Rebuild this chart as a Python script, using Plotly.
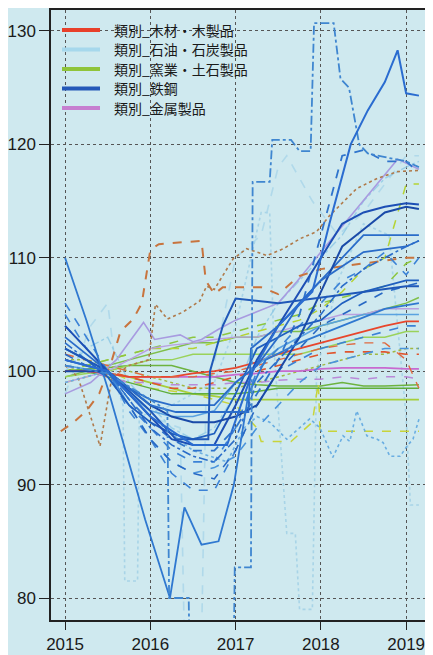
import plotly.graph_objects as go

# ---------------- data ----------------
# quarterly grid (decimal years)
years_q = [2015.0, 2015.25, 2015.5, 2015.75, 2016.0, 2016.25, 2016.5, 2016.75,
           2017.0, 2017.25, 2017.5, 2017.75, 2018.0, 2018.25, 2018.5, 2018.75,
           2019.0, 2019.15]

legend_names = ["類別_木材・木製品", "類別_石油・石炭製品", "類別_窯業・土石製品",
                "類別_鉄鋼", "類別_金属製品"]

# 鉄鋼 (quarterly)
steel_1 = [104, 102, 100, 98, 96, 94, 93.5, 93.5, 97, 101, 104, 107, 110, 113, 114, 114.5, 114.8, 114.7]
steel_2 = [103, 101.5, 100, 98.5, 97.5, 97, 97, 97, 99, 100.5, 103, 106, 108, 110, 112, 112, 112, 112]
steel_3 = [105, 102, 100, 97, 95, 93, 92, 92, 95, 100, 102, 104, 106, 108, 109, 110.5, 108.5, 110]
steel_4 = [102, 101, 99.5, 97, 95.5, 94.5, 94, 94.5, 98, 102, 103, 104, 104.5, 106, 107, 107.5, 108, 108]
steel_5 = [101.5, 100.5, 99.5, 97, 94, 92, 91, 90.5, 93, 97, 100, 102, 104, 105, 106, 107, 107.5, 107.8]
steel_6 = [100.5, 100.2, 99.8, 98, 96.5, 96, 96, 96.5, 99, 100.5, 102, 103, 104, 104.5, 105, 105, 105, 105]
steel_7 = [106, 103, 100, 96.5, 94, 91, 89.5, 89.5, 93, 97, 100, 101, 102, 102.5, 103, 103.5, 104, 104]
steel_8 = [102.5, 101, 100, 97.5, 95, 93.5, 92.5, 92, 94, 99, 101, 103, 105, 107.5, 109, 110, 111, 111.5]
steel_9 = [100, 100, 100, 98.5, 97, 96, 95.5, 95.5, 96, 97, 100, 103, 107, 111, 112.5, 114, 114.5, 114.3]
steel_10 = [101, 100.5, 100, 97.5, 95.5, 94, 93, 93, 95, 98, 101, 105, 112, 119, 119.5, 118.5, 118.5, 117.5]
steel_11 = [104, 102, 100, 97, 94, 92, 91, 91.5, 92.5, 95, 97, 99, 100.5, 101, 101.5, 102, 102, 102]

# 鉄鋼 (own dates)
steel_peak_x = [2015.0, 2015.5, 2016.0, 2016.5, 2016.9, 2017.2, 2017.5, 2017.9, 2018.1,
                2018.35, 2018.55, 2018.75, 2018.9, 2019.0, 2019.15]
steel_peak_y = [101, 100, 96, 93.5, 93.5, 100, 104, 107, 113, 120, 123, 125.5, 128.3, 124.5, 124.3]

steel_step_x = [2015.0, 2015.5, 2016.0, 2016.2, 2016.22, 2016.45, 2016.47, 2016.97, 2016.99,
                2017.18, 2017.2, 2017.4, 2017.43, 2017.65, 2017.75, 2017.88, 2017.92, 2018.15,
                2018.23, 2018.33, 2018.45, 2018.55, 2018.8, 2019.0, 2019.15]
steel_step_y = [100.5, 99.8, 97.5, 96.5, 80, 80, 70, 70, 82.7, 82.7, 116.7, 116.7, 120.4,
                120.4, 119.4, 119.4, 130.7, 130.7, 125.8, 125, 120, 119.2, 118.8, 118.5, 118]

steel_w_x = [2015.0, 2015.25, 2015.5, 2015.75, 2015.94, 2016.23, 2016.4, 2016.6, 2016.8,
             2016.98, 2017.15, 2017.35, 2017.75, 2018.25, 2018.75, 2019.15]
steel_w_y = [110, 104.5, 98.5, 92, 86.9, 80, 88, 84.7, 85, 90, 98, 101, 102.5, 104, 105.5, 106]

steel_jump1_x = [2015.0, 2015.5, 2016.0, 2016.3, 2016.68, 2016.7, 2016.85, 2017.0, 2017.5,
                 2018.0, 2018.5, 2019.0, 2019.15]
steel_jump1_y = [102, 100, 96.5, 94, 94, 100, 104, 106.4, 106, 106.5, 107, 107.5, 107.5]

steel_jump2_x = [2015.0, 2015.5, 2016.0, 2016.3, 2017.15, 2017.18, 2017.5, 2018.0, 2018.5,
                 2019.0, 2019.15]
steel_jump2_y = [101, 100, 97, 96.4, 96.4, 102, 104, 108, 110.5, 111, 111.5]

steel_zig_x = [2015.0, 2015.5, 2016.0, 2016.5, 2016.9, 2017.1, 2017.25, 2017.40, 2017.60,
               2017.87, 2017.99, 2018.14, 2018.26, 2018.34, 2018.42, 2018.54, 2018.66,
               2018.73, 2018.81, 2018.93, 2019.01, 2019.08, 2019.16]
steel_zig_y = [99, 100, 96, 93, 92, 95, 96, 95.5, 94, 95.8, 95, 92.4, 94.3, 93.8, 96.5,
               94.3, 94, 93.7, 92.5, 92.5, 93.4, 94, 96]

# 石油・石炭製品
oil_1_x = [2015.0, 2015.5, 2015.68, 2015.7, 2015.85, 2015.87, 2016.25, 2016.75, 2017.0,
           2017.3, 2017.4, 2017.45, 2017.6, 2017.7, 2017.75, 2017.9, 2017.95, 2018.2,
           2018.5, 2018.8, 2019.0, 2019.05, 2019.15]
oil_1_y = [100, 101, 97, 81.5, 81.5, 96, 97, 99, 104, 114, 114, 102, 85.7, 85.7, 79, 79,
           100, 108, 113, 112, 96, 88.2, 88.2]
oil_2_x = [2015.0, 2015.3, 2015.5, 2015.6, 2016.0, 2016.35, 2016.4, 2016.6, 2016.65, 2017.0,
           2017.3, 2017.5, 2017.6, 2017.9, 2018.2, 2018.5, 2018.8, 2019.0, 2019.15]
oil_2_y = [98, 104, 106, 100, 96, 95, 76, 76, 97, 110, 112, 118, 119, 115, 112, 114, 117, 119, 119]
oil_3 = [100, 102, 103, 99, 97, 95, 94, 95, 98, 103, 106, 108, 110, 112, 115, 117, 118, 118.5]

# 木材・木製品
wood_1 = [100, 100, 99.8, 99.5, 99.5, 99.5, 99.8, 100, 100.3, 100.8, 101.5, 102, 102.5, 103, 103.5, 104, 104.4, 104.4]
wood_2 = [101, 100.5, 100, 99.5, 99, 98.5, 98.5, 99, 99.5, 100, 100.5, 101, 101.5, 101.7, 101.7, 101.7, 101.5, 101.5]
wood_3 = [101.5, 101, 100.5, 100, 99.5, 99.5, 99.5, 99.8, 100, 100.5, 101, 101.5, 102, 102.3, 102.5, 102.5, 101, 98.5]
wood_dash_x = [2014.95, 2015.1, 2015.25, 2015.4, 2015.55, 2015.65, 2015.8, 2015.9, 2016.0,
               2016.1, 2016.6, 2016.65, 2016.75, 2016.85, 2017.3, 2017.5, 2017.75, 2018.0,
               2018.5, 2019.0, 2019.15]
wood_dash_y = [94.7, 95.5, 96.5, 98, 101, 103.5, 104.6, 106, 110.7, 111.2, 111.5, 108, 106.8,
               107.4, 107.4, 106.8, 108.4, 109, 109.5, 110, 110]
wood_dot_x = [2015.0, 2015.15, 2015.41, 2015.55, 2015.75, 2015.98, 2016.06, 2016.2, 2016.38,
              2016.58, 2016.66, 2016.75, 2016.97, 2017.13, 2017.37, 2017.56, 2017.76, 2017.95,
              2018.1, 2018.22, 2018.42, 2018.66, 2018.9, 2019.14]
wood_dot_y = [100.5, 99.5, 93.4, 99.5, 100.5, 101, 105.9, 104.6, 105.2, 106.2, 107.5, 107.2,
              109.9, 110.8, 110.2, 110.8, 111.7, 112.3, 113.7, 114.6, 116.1, 117, 117.6, 117.7]

# 窯業・土石製品
cer_1 = [100, 100, 99.8, 99.5, 99, 98.5, 98, 97.8, 97.5, 97.5, 97.5, 97.5, 97.5, 97.5, 97.5, 97.5, 97.5, 97.5]
cer_2 = [100, 100.2, 100.3, 100.5, 100.5, 100.5, 100, 99.5, 99, 98.8, 98.7, 98.7, 98.7, 99, 98.7, 98.7, 98.8, 98.8]
cer_4 = [99.5, 100, 100.5, 101, 101.5, 102, 102.5, 102.5, 103, 103, 103.5, 103.5, 104, 104.5, 105, 105.5, 106, 106.5]
cer_5 = [100, 100.5, 101, 101.5, 102, 102, 102, 102.5, 103, 103.5, 104, 104.5, 105.5, 107, 109, 110, 116.5, 116.5]
cer_6 = [100, 100.5, 101, 101.5, 102, 102.5, 103, 103, 103.5, 104, 104.5, 105, 106, 106.5, 107, 107.5, 109.5, 110]
cer_7 = [99.5, 99.8, 100, 100.5, 101, 101, 101.5, 101.5, 101.5, 101.5, 101.5, 101.5, 102, 102.5, 103, 103, 103.5, 103.5]
cer_8 = [100, 100, 99.5, 99, 98.5, 98, 98, 98, 98, 98.2, 98.5, 98.5, 98.5, 98.5, 98.5, 98.5, 98.5, 98.5]
cer_9 = [101, 101, 100.5, 100, 99.5, 99, 98.5, 98.5, 98.5, 99, 99.5, 100, 100.5, 101, 101.5, 101.5, 102, 102]
cer_step_x = [2015.0, 2015.5, 2016.0, 2016.5, 2017.0, 2017.25, 2017.3, 2017.65, 2017.9,
              2017.97, 2017.99, 2019.15]
cer_step_y = [99, 100, 98.5, 98, 97, 95, 93.8, 93.8, 95.5, 99, 94.7, 94.7]

# 金属製品
metal_1_x = [2015.0, 2015.3, 2015.6, 2015.92, 2016.05, 2016.35, 2016.5, 2016.6, 2016.8,
             2017.0, 2017.5, 2017.72, 2018.0, 2018.5, 2018.9, 2019.15]
metal_1_y = [98, 99, 101, 104.3, 102.8, 103.2, 102.6, 102.8, 103.7, 104.5, 106, 107.9, 110.5,
             115, 118.7, 117.8]
metal_2 = [100, 100, 99.8, 99.5, 99.5, 99.5, 99.5, 99.5, 99.7, 99.8, 100, 100, 100.2, 100.3, 100.3, 100.3, 100.2, 100.2]
metal_3 = [100.5, 100, 99.5, 99, 99, 98.8, 98.8, 98.8, 99, 99, 99.2, 99.3, 99.3, 99.5, 99.3, 99.5, 99.5, 99.3]
metal_4 = [99, 99.5, 100, 101, 102, 102.3, 102.5, 102.8, 103, 103, 103.5, 104, 104.5, 105, 105, 105.5, 105.5, 105.5]

x_ticks = [2015, 2016, 2017, 2018, 2019]
y_ticks = [80, 90, 100, 110, 120, 130]

# ---------------- styles ----------------
C_WOOD, C_OIL, C_CER, C_STEEL, C_METAL = "#e8402a", "#a6d8ec", "#8fc43a", "#2458b8", "#c67fd0"
group_keys = ["wood", "oil", "cer", "steel", "metal"]
group_cols = [C_WOOD, C_OIL, C_CER, C_STEEL, C_METAL]

fig = go.Figure()


def add(x, y, key, color, dash="solid", width=1.6, opacity=1.0):
    fig.add_trace(go.Scatter(x=x, y=y, mode="lines", legendgroup=key, showlegend=False,
                             line=dict(color=color, width=width, dash=dash),
                             opacity=opacity, hoverinfo="skip"))


# petroleum (faint)
add(oil_1_x, oil_1_y, "oil", "#9fd0e6", "dot", 1.6, 0.8)
add(oil_2_x, oil_2_y, "oil", "#a9d6ea", "dash", 1.6, 0.8)
add(years_q, oil_3, "oil", "#8cc8e6", "dashdot", 1.4, 0.8)

# ceramics
add(years_q, cer_1, "cer", "#a6cf3a", "solid", 1.8)
add(years_q, cer_2, "cer", "#6db33f", "solid", 1.6)
add(cer_step_x, cer_step_y, "cer", "#c8d43a", "dash", 1.5)
add(years_q, cer_4, "cer", "#7fbf4a", "solid", 1.5)
add(years_q, cer_5, "cer", "#b5d334", "dash", 1.5)
add(years_q, cer_6, "cer", "#8cc63f", "dash", 1.5)
add(years_q, cer_7, "cer", "#9ad25a", "solid", 1.5)
add(years_q, cer_8, "cer", "#5fae3a", "solid", 1.5)
add(years_q, cer_9, "cer", "#a0b842", "dot", 1.5)

# metal
add(metal_1_x, metal_1_y, "metal", "#a89be0", "solid", 1.6)
add(years_q, metal_2, "metal", "#c86ad0", "solid", 1.8)
add(years_q, metal_3, "metal", "#b98ad8", "dash", 1.5)
add(years_q, metal_4, "metal", "#b8a0e0", "solid", 1.4)

# wood
add(years_q, wood_1, "wood", "#e8462c", "solid", 1.8)
add(years_q, wood_2, "wood", "#e0552e", "dash", 1.6)
add(years_q, wood_3, "wood", "#e06a40", "dash", 1.4)
add(wood_dash_x, wood_dash_y, "wood", "#c8743e", "dash", 2.0)
add(wood_dot_x, wood_dot_y, "wood", "#b07a4a", "dot", 1.6)

# steel
add(steel_zig_x, steel_zig_y, "steel", "#6aaee2", "dot", 1.6)
add(years_q, steel_6, "steel", "#5aa2e0", "solid", 1.6)
add(years_q, steel_11, "steel", "#4a94dc", "dash", 1.6)
add(years_q, steel_7, "steel", "#3b82d6", "dash", 1.6)
add(years_q, steel_3, "steel", "#3b82d6", "dash", 1.6)
add(years_q, steel_5, "steel", "#2768c4", "dash", 1.6)
add(years_q, steel_8, "steel", "#2a6cc9", "dashdot", 1.6)
add(years_q, steel_10, "steel", "#2f74cc", "dash", 1.8)
add(years_q, steel_4, "steel", "#1f5fbf", "solid", 1.8)
add(years_q, steel_2, "steel", "#2a6cc9", "solid", 1.8)
add(years_q, steel_1, "steel", "#1d4fb5", "solid", 2.0)
add(years_q, steel_9, "steel", "#1a4aa8", "solid", 2.0)
add(steel_jump1_x, steel_jump1_y, "steel", "#1f58b8", "solid", 2.0)
add(steel_jump2_x, steel_jump2_y, "steel", "#2a6cc9", "solid", 1.8)
add(steel_w_x, steel_w_y, "steel", "#2f78d0", "solid", 1.8)
add(steel_step_x, steel_step_y, "steel", "#3f86d0", "dashdot", 1.8)
add(steel_peak_x, steel_peak_y, "steel", "#2a6cd0", "solid", 2.0)

# ---------------- legend (sample lines + one text per entry) ----------------
# the page body adds an 8px offset, so the figure is 425x647 with the plot area
# landing at page px x 51..433, y 10..620
PL, PW, PT, PH = 51, 382, 10, 610
leg_x0, leg_x1, leg_tx = 62, 100, 113
leg_y0, leg_dy = 30, 19.5
leg_font = 14
shapes, annotations = [], []
for i, (name, col) in enumerate(zip(legend_names, group_cols)):
    py = leg_y0 + i * leg_dy
    yp = 1 - (py - PT) / PH
    shapes.append(dict(type="line", xref="paper", yref="paper",
                       x0=(leg_x0 - PL) / PW, x1=(leg_x1 - PL) / PW, y0=yp, y1=yp,
                       line=dict(color=col, width=4)))
    annotations.append(dict(xref="paper", yref="paper", x=(leg_tx - PL) / PW, y=yp,
                            xanchor="left", yanchor="middle", showarrow=False,
                            borderpad=0, text=name,
                            font=dict(family="Noto Sans CJK JP", size=leg_font,
                                      color="#1a1a1a")))

BG = "#cfe9ef"
tick_font = dict(family="Liberation Sans, Arial, sans-serif", size=17, color="#1a1a1a")

fig.update_layout(
    width=425, height=647,
    margin=dict(l=43, r=0, t=2, b=35, autoexpand=False),
    paper_bgcolor=BG, plot_bgcolor=BG,
    showlegend=False,
    shapes=shapes, annotations=annotations,
    xaxis=dict(range=[2014.835, 2019.315], tickmode="array", tickvals=x_ticks,
               ticktext=[str(v) for v in x_ticks], automargin=False,
               ticks="outside", ticklen=8, tickcolor="#222", tickwidth=1,
               showline=True, linecolor="#222", linewidth=1.5, mirror=True,
               showgrid=True, gridcolor="#555", gridwidth=1, griddash="dot",
               zeroline=False,
               tickfont=dict(family="Liberation Sans, Arial, sans-serif",
                             size=17, color="#1a1a1a")),
    yaxis=dict(range=[78.06, 131.85], tickmode="array", tickvals=y_ticks,
               automargin=False,
               ticks="outside", ticklen=10, tickcolor="#222", tickwidth=1,
               showline=True, linecolor="#222", linewidth=1.5,
               showgrid=True, gridcolor="#555", gridwidth=1, griddash="dot",
               zeroline=False, tickfont=tick_font),
)

fig.write_html("out.html")
